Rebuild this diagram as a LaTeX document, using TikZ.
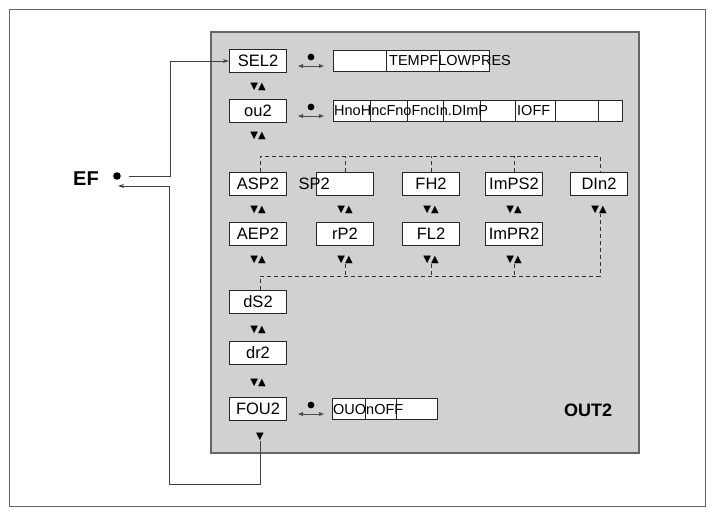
\documentclass[tikz,border=0pt]{standalone}
\usepackage{fontspec}
\setmainfont{Liberation Sans}
\newfontfamily\symf{DejaVu Sans}
\usetikzlibrary{arrows.meta}
\begin{document}
\begin{tikzpicture}[x=1pt,y=-1pt,
 box/.style={draw=black!85,fill=white,line width=1.3pt,inner sep=0pt,minimum height=23pt,font=\fontsize{16.5}{16}\selectfont},
 cell/.style={draw=black!85,fill=white,line width=1.1pt,inner sep=0pt,minimum height=21pt,anchor=west},
 val/.style={inner sep=0pt,anchor=west,font=\fontsize{14.5}{14}\selectfont},
 ud/.style={inner sep=0pt,font=\symf\fontsize{10}{10}\selectfont},
 dline/.style={line width=0.9pt,dash pattern=on 4pt off 3pt,black!80},
 wire/.style={line width=0.9pt,black!75}]
\useasboundingbox (0,0) rectangle (712,507);
\draw[line width=1pt,black!60] (9,9) rectangle (705,506);
\fill[black!18] (211,32) rectangle (639,453);
\draw[line width=1.2pt,black!60] (211,32) rectangle (639,453);
% selector symbol
\newcommand{\sym}[2]{\fill (#1,#2-4) circle (3.4pt);
 \draw[line width=0.7pt,black!70] (#1-11,#2+5) -- (#1+11,#2+5);
 \fill[black!70] (#1-13,#2+5) -- (#1-8,#2+3) -- (#1-8,#2+7) -- cycle;
 \fill[black!70] (#1+13,#2+5) -- (#1+8,#2+3) -- (#1+8,#2+7) -- cycle;}
% SEL2 row
\node[box,minimum width=57pt] (sel) at (258,61) {SEL2};
\sym{311}{61}
\node[cell,minimum width=53pt] (s1) at (333,61) {};
\node[cell,minimum width=53pt] (s2) at (386,61) {};
\node[cell,minimum width=50pt] (s3) at (439,61) {};
\node[val] (tt) at (389,61) {TEMPFLOWPRES};
\node[ud] (a1) at (258,87) {▼▲};
% ou2 row
\node[box,minimum width=57pt] (ou) at (258,111) {ou2};
\sym{311}{111}
\foreach \a/\b [count=\i] in {333/370,370/407,407/443,443/480,480/515,515/555,555/598,598/622}{
 \pgfmathsetmacro\w{\b-\a}
 \node[cell,minimum width=\w pt] (o\i) at (\a,111) {};}
\node[val] (ot) at (334,111) {HnoHncFnoFncIn.DImP};
\node[val] (ot2) at (517,111) {IOFF};
\node[ud] (a2) at (258,136) {▼▲};
% row 1
\node[box,minimum width=57pt] (asp) at (258,184) {ASP2};
\node[box,minimum width=57pt] (sp) at (345,184) {};
\node[box,inner sep=0pt,draw=none,fill=none,anchor=west] (spt) at (298,184) {SP2};
\node[box,minimum width=57pt] (fh) at (431,184) {FH2};
\node[box,minimum width=57pt] (ips) at (514,184) {ImPS2};
\node[box,minimum width=57pt] (din) at (599,184) {DIn2};
\foreach \x/\n in {258/b1,345/b2,431/b3,514/b4,599/b5}{\node[ud] (\n) at (\x,210) {▼▲};}
% row 2
\node[box,minimum width=57pt] (aep) at (258,234) {AEP2};
\node[box,minimum width=57pt] (rp) at (345,234) {rP2};
\node[box,minimum width=57pt] (fl) at (431,234) {FL2};
\node[box,minimum width=57pt] (ipr) at (514,234) {ImPR2};
\foreach \x/\n in {258/c1,345/c2,431/c3,514/c4}{\node[ud] (\n) at (\x,260) {▼▲};}
% dashed connectors
\coordinate (t1) at (260,156); \coordinate (t5) at (600,156);
\draw[dline] (asp.north -| t1) -- (t1) -- (t5) -- (din.north -| t5);
\foreach \n in {sp,fh,ips}{\draw[dline] (\n.north) -- (\n.north |- t1);}
\coordinate (u1) at (260,276); \coordinate (u5) at (600,276);
\node[box,minimum width=57pt] (ds) at (258,302) {dS2};
\draw[dline] (ds.north -| u1) -- (u1) -- (u5) -- (u5 |- b5.south);
\foreach \n in {c2,c3,c4}{\draw[dline] (\n.south) -- (\n.south |- u1);}
\node[ud] (d1) at (258,330) {▼▲};
\node[box,minimum width=57pt] (dr) at (258,353) {dr2};
\node[ud] (d2) at (258,383) {▼▲};
\node[box,minimum width=57pt] (fou) at (258,409) {FOU2};
\sym{311}{409}
\node[cell,minimum width=33pt] (f1) at (332,409) {};
\node[cell,minimum width=31pt] (f2) at (365,409) {};
\node[cell,minimum width=41pt] (f3) at (396,409) {};
\node[val] (ft) at (333,409) {OUOnOFF};
\node[ud] (d3) at (260,437) {▼};
\node[font=\bfseries\fontsize{18}{18}\selectfont] (out) at (588,410) {OUT2};
\node[font=\bfseries\fontsize{20}{20}\selectfont,anchor=west,inner sep=0pt] (ef) at (73,179) {EF};
\fill (117,176) circle (3.8pt);
\coordinate (efo) at (129,176); \coordinate (efi) at (118,186);
\draw[wire,-{Stealth[length=6pt,width=4pt]}] (efo) -- (170,176) -- (170,61) -- (sel.west);
\draw[wire,-{Stealth[length=6pt,width=4pt]}] (d3.south) -- (260,484) -- (169,484) -- (169,186) -- (efi);
\end{tikzpicture}
\end{document}
